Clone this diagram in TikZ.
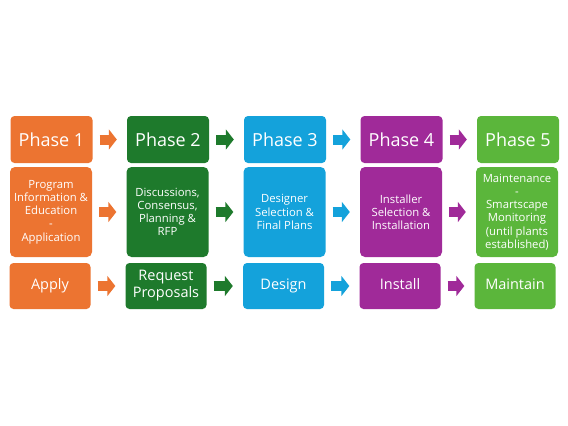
\documentclass[tikz,border=0pt]{standalone}
\usepackage{fontspec}
\setmainfont{Open Sans}
\usepackage{tikz}
\usetikzlibrary{positioning, arrows.meta, calc}
\definecolor{phOrange}{HTML}{EC7431}
\definecolor{phDark}{HTML}{1E7A2C}
\definecolor{phBlue}{HTML}{14A2DB}
\definecolor{phPurple}{HTML}{A02A99}
\definecolor{phGreen}{HTML}{5BB63B}

\begin{document}
\begin{tikzpicture}[x=1pt, y=-1pt,
  phase/.style={fill=#1, rounded corners=4pt, minimum width=82pt,
                minimum height=47pt, align=center, text=white,
                font=\fontsize{18}{21}\selectfont},
  detail/.style={fill=#1, rounded corners=5pt, minimum width=82pt,
                 minimum height=90pt, align=center, text=white, inner sep=1pt,
                 font=\fontsize{11.3}{13.2}\selectfont},
  action/.style={fill=#1, rounded corners=4pt, minimum width=81pt,
                 minimum height=46pt, align=center, text=white,
                 execute at begin node=\strut,
                 font=\fontsize{14.5}{17}\selectfont},
  flow/.style={draw=#1, line width=10pt, shorten <=7pt, shorten >=10pt,
               -{Triangle[length=8pt, width=20pt]}},
]
  \useasboundingbox[fill=white] (0,0) rectangle (568,426);

  % top row
  \node[phase=phOrange] (ph1) at (51.5,139.5) {Phase 1};
  \node[phase=phDark]   (ph2) at (168,139.5) {Phase 2};
  \node[phase=phBlue]   (ph3) at (285,139.5) {Phase 3};
  \node[phase=phPurple] (ph4) at (401.5,139.5) {Phase 4};
  \node[phase=phGreen]  (ph5) at (518,139.5) {Phase 5};

  % middle row
  \node[detail=phOrange] (dt1) at (51,212) {Program\\Information \&\\Education\\-\\Application};
  \node[detail=phDark]   (dt2) at (167.5,212) {Discussions,\\Consensus,\\Planning \&\\RFP};
  \node[detail=phBlue]   (dt3) at (284.5,212) {Designer\\Selection \&\\Final Plans};
  \node[detail=phPurple] (dt4) at (401,212) {Installer\\Selection \&\\Installation};
  \node[detail=phGreen]  (dt5) at (517,212) {Maintenance\\-\\Smartscape\\Monitoring\\(until plants\\established)};

  % bottom row
  \node[action=phOrange] (ac1) at (50,286) {Apply};
  \node[action=phDark]   (ac2) at (166,286) {Request\\Proposals};
  \node[action=phBlue]   (ac3) at (283.5,286) {Design};
  \node[action=phPurple] (ac4) at (400,286) {Install};
  \node[action=phGreen]  (ac5) at (515,286) {Maintain};

  % arrows
  \draw[flow=phOrange] (ph1.east) -- (ph2.west);
  \draw[flow=phDark]   (ph2.east) -- (ph3.west);
  \draw[flow=phBlue]   (ph3.east) -- (ph4.west);
  \draw[flow=phPurple] (ph4.east) -- (ph5.west);

  \draw[flow=phOrange] (dt1.east) -- (dt2.west);
  \draw[flow=phDark]   (dt2.east) -- (dt3.west);
  \draw[flow=phBlue]   (dt3.east) -- (dt4.west);
  \draw[flow=phPurple] (dt4.east) -- (dt5.west);

  \draw[flow=phOrange] (ac1.east) -- (ac2.west);
  \draw[flow=phDark]   (ac2.east) -- (ac3.west);
  \draw[flow=phBlue]   (ac3.east) -- (ac4.west);
  \draw[flow=phPurple] (ac4.east) -- (ac5.west);
\end{tikzpicture}
\end{document}
